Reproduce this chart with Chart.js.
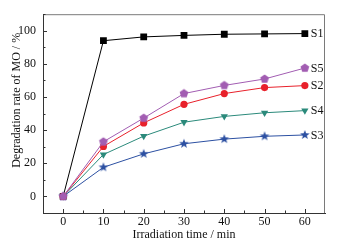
<!DOCTYPE html>
<html>
<head>
<meta charset="utf-8">
<script src="https://cdn.jsdelivr.net/npm/chart.js@4.4.1/dist/chart.umd.min.js"></script>
<style>
html,body{margin:0;padding:0;background:#ffffff;}
#wrap{width:351px;height:247px;position:relative;}
</style>
</head>
<body>
<div id="wrap"><canvas id="c" width="351" height="247"></canvas></div>
<script>
// ---- data ----
const times = [0, 10, 20, 30, 40, 50, 60];
const s1 = [0, 94.0, 96.3, 97.2, 97.9, 98.1, 98.3];
const s2 = [0, 30.2, 44.4, 55.6, 62.1, 65.7, 66.9];
const s3 = [0, 17.6, 25.7, 31.8, 34.6, 36.3, 37.1];
const s4 = [0, 25.3, 36.4, 44.8, 48.3, 50.5, 51.8];
const s5 = [0, 33.0, 47.3, 62.1, 67.0, 70.9, 77.5];
const seriesNames = ['S1', 'S2', 'S3', 'S4', 'S5'];
const xTickLabels = [0, 10, 20, 30, 40, 50, 60];
const yTickLabels = [0, 20, 40, 60, 80, 100];
const yTitle = 'Degradation rate of MO / %';
const xTitle = 'Irradiation time / min';

const FONT = "'Liberation Serif', 'Times New Roman', serif";
const FS = 12;
const C = {S1:'#000000', S2:'#e8212b', S3:'#2c50a2', S4:'#2b8a7b', S5:'#a25db2'};

function shapeCanvas(kind, color, r) {
  const s = Math.ceil(r * 2 + 2);
  const cv = document.createElement('canvas');
  cv.width = s; cv.height = s;
  const g = cv.getContext('2d');
  const cx = s / 2, cy = s / 2;
  g.fillStyle = color;
  g.beginPath();
  if (kind === 'star') {
    for (let i = 0; i < 10; i++) {
      const rr = i % 2 === 0 ? r : r * 0.42;
      const a = -Math.PI / 2 + i * Math.PI / 5;
      const px = cx + rr * Math.cos(a), py = cy + rr * Math.sin(a);
      i === 0 ? g.moveTo(px, py) : g.lineTo(px, py);
    }
  } else {
    for (let i = 0; i < 5; i++) {
      const a = -Math.PI / 2 + i * 2 * Math.PI / 5;
      const px = cx + r * Math.cos(a), py = cy + r * Math.sin(a);
      i === 0 ? g.moveTo(px, py) : g.lineTo(px, py);
    }
  }
  g.closePath();
  g.fill();
  return cv;
}

function pts(arr) { return times.map((t, i) => ({x: t, y: arr[i]})); }

const datasets = [
  {label:'S5', data:pts(s5), borderColor:C.S5, backgroundColor:C.S5, pointStyle:shapeCanvas('pent', C.S5, 4.6), pointRadius:4.5},
  {label:'S2', data:pts(s2), borderColor:C.S2, backgroundColor:C.S2, pointStyle:'circle', pointRadius:3.6},
  {label:'S4', data:pts(s4), borderColor:C.S4, backgroundColor:C.S4, pointStyle:'triangle', rotation:180, pointRadius:4.2},
  {label:'S3', data:pts(s3), borderColor:C.S3, backgroundColor:C.S3, pointStyle:shapeCanvas('star', C.S3, 5), pointRadius:5},
  {label:'S1', data:pts(s1), borderColor:C.S1, backgroundColor:C.S1, pointStyle:'rect', pointRadius:4.8},
].map(d => Object.assign({borderWidth:1, pointBorderWidth:0, tension:0, fill:false}, d));

const decor = {
  id: 'decor',
  afterDraw(chart) {
    const ctx = chart.ctx;
    const xs = chart.scales.x, ys = chart.scales.y;
    const a = chart.chartArea;
    ctx.save();
    // frame top/right
    ctx.strokeStyle = '#7a7a7a';
    ctx.lineWidth = 1;
    ctx.beginPath();
    ctx.moveTo(a.left, a.top + 0.5); ctx.lineTo(a.right - 0.5, a.top + 0.5); ctx.lineTo(a.right - 0.5, a.bottom);
    ctx.stroke();
    // inward ticks
    ctx.strokeStyle = '#333';
    ctx.beginPath();
    for (let v = 0; v <= 60; v += 5) {
      const px = Math.round(xs.getPixelForValue(v)) + 0.5;
      const len = xTickLabels.includes(v) ? 4 : 2.5;
      ctx.moveTo(px, a.bottom); ctx.lineTo(px, a.bottom - len);
    }
    for (let v = -10; v <= 110; v += 10) {
      const py = Math.round(ys.getPixelForValue(v)) + 0.5;
      const len = yTickLabels.includes(v) ? 4 : 2.5;
      ctx.moveTo(a.left, py); ctx.lineTo(a.left + len, py);
    }
    ctx.stroke();
    // y title
    ctx.fillStyle = '#111';
    ctx.font = FS + 'px ' + FONT;
    ctx.textBaseline = 'middle';
    ctx.textAlign = 'center';
    ctx.save();
    ctx.translate(17, ys.getPixelForValue(58));
    ctx.rotate(-Math.PI / 2);
    ctx.fillText(yTitle, 0, 0);
    ctx.restore();
    // series labels
    ctx.textAlign = 'left';
    const map = {S1:s1, S2:s2, S3:s3, S4:s4, S5:s5};
    seriesNames.forEach(n => {
      const arr = map[n];
      const last = arr.length - 1;
      ctx.fillText(n, xs.getPixelForValue(times[last]) + 6, ys.getPixelForValue(arr[last]) + 0.5);
    });
    ctx.restore();
  }
};

new Chart(document.getElementById('c'), {
  type: 'line',
  data: {datasets},
  plugins: [decor],
  options: {
    responsive: false,
    animation: false,
    devicePixelRatio: 1,
    layout: {padding: {left: 0, top: 4, right: 26, bottom: 0}},
    plugins: {legend: {display: false}, tooltip: {enabled: false}},
    scales: {
      x: {
        type: 'linear', min: -5, max: 65,
        afterFit(s) { s.height = 34; },
        border: {display: true, color: '#333', width: 1},
        grid: {display: true, drawOnChartArea: false, drawTicks: false},
        ticks: {
          stepSize: 10, autoSkip: false, padding: 2, color: '#111',
          font: {family: FONT, size: FS},
          callback: v => xTickLabels.includes(v) ? String(v) : ''
        },
        afterBuildTicks(s) { s.ticks = xTickLabels.map(v => ({value: v})); },
        title: {display: true, text: xTitle, color: '#111', font: {family: FONT, size: FS}, padding: {top: 0, bottom: 5}}
      },
      y: {
        type: 'linear', min: -10, max: 110,
        afterFit(s) { s.width = 43; },
        border: {display: true, color: '#333', width: 1},
        grid: {display: true, drawOnChartArea: false, drawTicks: false},
        ticks: {
          autoSkip: false, padding: 7, color: '#111',
          font: {family: FONT, size: FS},
          callback: v => String(v)
        },
        afterBuildTicks(s) { s.ticks = yTickLabels.map(v => ({value: v})); },
        title: {display: false}
      }
    }
  }
});
</script>
</body>
</html>
